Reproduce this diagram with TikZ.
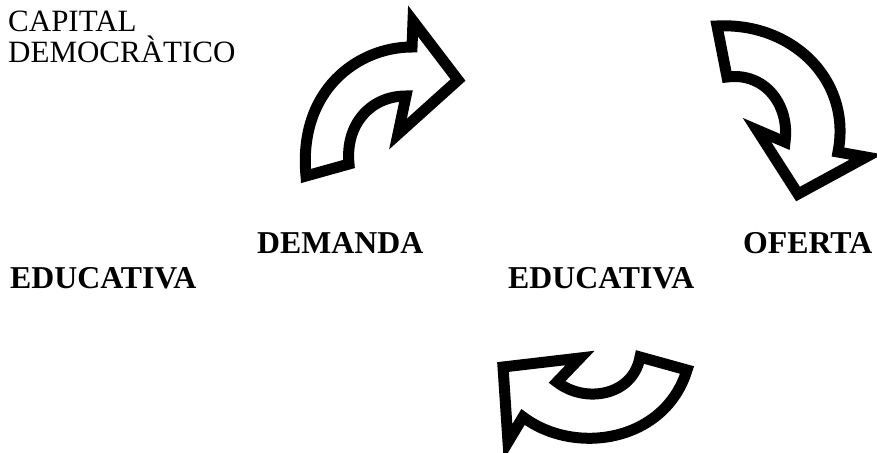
\documentclass[tikz,border=0pt]{standalone}
\usepackage{fontspec}
\setmainfont{Liberation Serif}
\begin{document}
\begin{tikzpicture}[x=1pt,y=-1pt,
  arr/.style={draw=black,fill=white,line width=11pt,line join=miter,miter limit=10},
  lbl/.style={inner sep=0pt,anchor=base west,font=\fontsize{31}{34}\selectfont},
  blbl/.style={lbl,font=\fontsize{31.8}{36}\selectfont\bfseries}]
\useasboundingbox (0,0) rectangle (877,452);
% top-left curved arrow
\draw[arr] (458,80) -- (413,21) -- (412,47)
  .. controls (358,47) and (298,90) .. (306,176)
  -- (349,164)
  .. controls (345,125) and (370,96) .. (406,96)
  -- (398,134) -- cycle;
% top-right curved arrow
\draw[arr] (717,26)
  .. controls (792,22) and (852,80) .. (838,152)
  -- (866,157) -- (798,194) -- (757,130) -- (785,142)
  .. controls (790,105) and (765,72) .. (727,77)
  -- cycle;
% bottom curved arrow
\draw[arr] (503,367) -- (580,358) -- (557,382)
  .. controls (585,404) and (633,396) .. (640,357)
  -- (687,370)
  .. controls (665,442) and (575,456) .. (523,417)
  -- (508,442) -- cycle;
\node[lbl] (cap) at (8,32) {CAPITAL};
\node[lbl] (dem) at (8,63) {DEMOCRÀTICO};
\node[blbl] (demanda) at (257,253) {DEMANDA};
\node[blbl] (edu1) at (10,288) {EDUCATIVA};
\node[blbl] (oferta) at (743,253) {OFERTA};
\node[blbl] (edu2) at (508,288) {EDUCATIVA};
\end{tikzpicture}
\end{document}
